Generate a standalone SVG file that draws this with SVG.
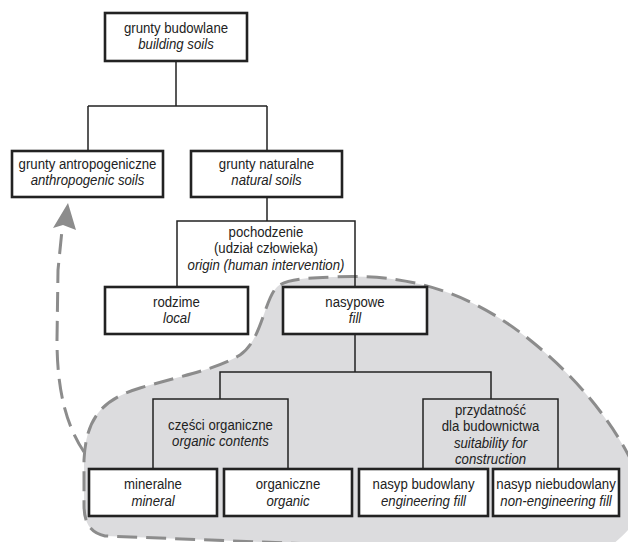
<svg xmlns="http://www.w3.org/2000/svg" width="628" height="542" viewBox="0 0 628 542">
<style>
.node{fill:#fff;stroke:#222;stroke-width:2.6}
.br{fill:none;stroke:#222;stroke-width:1.5}
.con{fill:none;stroke:#222;stroke-width:1.5}
text{font-family:"Liberation Sans",Arial,sans-serif;font-size:15px;fill:#222;text-anchor:middle;transform-box:fill-box;transform-origin:center;transform:scaleX(0.88)}
.it{font-style:italic}
.dash{fill:none;stroke:#8c8c8c;stroke-width:3;stroke-dasharray:20 9}
</style>
<rect width="628" height="542" fill="#fff"/>
<g id="region">
<path d="M 333,277 C 420,272 480,300 530,340 C 580,380 620,430 640,480 C 648,505 635,530 607,548 L 340,545 L 105,536 C 88,532 84,520 84,505 L 84,460 C 86,420 100,400 140,388 C 180,376 215,370 240,355 C 262,340 264,300 277,287 C 285,280 300,278 333,277 Z" fill="#dcdcde"/>
<path class="dash" d="M 340,545 L 105,536 C 88,532 84,520 84,505 L 84,460 C 86,420 100,400 140,388 C 180,376 215,370 240,355 C 262,340 264,300 277,287 C 285,280 300,278 333,277 C 420,272 480,300 530,340 C 580,380 620,430 640,480"/>
</g>
<g id="arrow">
<path class="dash" d="M 84,452 C 66,425 57,390 57,340 L 58,270 L 62,230"/>
<polygon points="68,203 53,228 63,225 76,230" fill="#8c8c8c"/>
</g>
<g id="connectors">
<path class="con" d="M176,61 V106 M88,106 H267 M88,106 V151 M267,106 V151"/>
<path class="con" d="M267,197 V221"/>
<path class="con" d="M355,334 V372"/>
</g>
<g id="n-origin">
<path class="br" d="M177,287 V221 H355 V287"/>
<text x="266" y="237">pochodzenie</text>
<text x="266" y="253.5">(udział człowieka)</text>
<text x="266" y="270" class="it">origin (human intervention)</text>
</g>
<g id="n-fillbracket">
<path class="br" d="M220,399 V372 H491 V399"/>
</g>
<g id="n-organic-contents">
<path class="br" d="M153,469 V399 H288 V469"/>
<text x="220.5" y="430">części organiczne</text>
<text x="220.5" y="446" class="it">organic contents</text>
</g>
<g id="n-suitability">
<path class="br" d="M423,469 V399 H558 V469"/>
<text x="490.5" y="415">przydatność</text>
<text x="490.5" y="431.5">dla budownictwa</text>
<text x="490.5" y="448" class="it">suitability for</text>
<text x="490.5" y="464" class="it">construction</text>
</g>
<g id="n-building">
<rect class="node" x="105" y="13" width="142" height="48"/>
<text x="176" y="33">grunty budowlane</text>
<text x="176" y="49" class="it">building soils</text>
</g>
<g id="n-anthro">
<rect class="node" x="12" y="151" width="151" height="46"/>
<text x="87.5" y="169">grunty antropogeniczne</text>
<text x="87.5" y="185" class="it">anthropogenic soils</text>
</g>
<g id="n-natural">
<rect class="node" x="191" y="151" width="151" height="46"/>
<text x="266.5" y="169">grunty naturalne</text>
<text x="266.5" y="185" class="it">natural soils</text>
</g>
<g id="n-local">
<rect class="node" x="105" y="287" width="143" height="47"/>
<text x="176.5" y="307">rodzime</text>
<text x="176.5" y="323" class="it">local</text>
</g>
<g id="n-fill">
<rect class="node" x="283" y="287" width="144" height="47"/>
<text x="355" y="307">nasypowe</text>
<text x="355" y="323" class="it">fill</text>
</g>
<g id="n-mineral">
<rect class="node" x="89" y="469" width="128" height="47"/>
<text x="153" y="489.5">mineralne</text>
<text x="153" y="506" class="it">mineral</text>
</g>
<g id="n-organic">
<rect class="node" x="224" y="469" width="128" height="47"/>
<text x="288" y="489.5">organiczne</text>
<text x="288" y="506" class="it">organic</text>
</g>
<g id="n-engfill">
<rect class="node" x="359" y="469" width="129" height="47"/>
<text x="423.5" y="489.5">nasyp budowlany</text>
<text x="423.5" y="506" class="it">engineering fill</text>
</g>
<g id="n-noneng">
<rect class="node" x="493" y="469" width="126" height="47"/>
<text x="556" y="489.5">nasyp niebudowlany</text>
<text x="556" y="506" class="it">non-engineering fill</text>
</g>
</svg>
